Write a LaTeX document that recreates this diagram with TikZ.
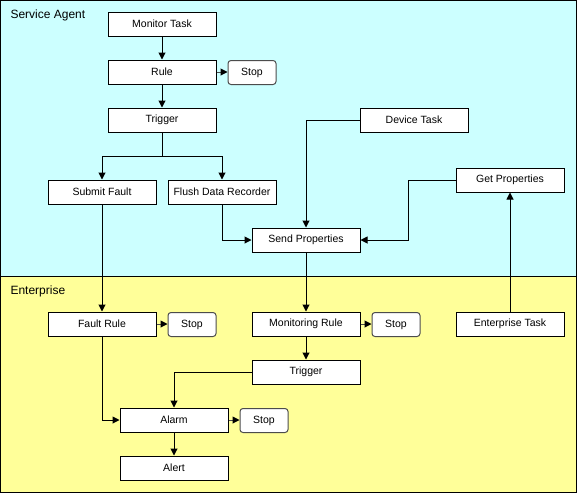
\documentclass[tikz,border=0pt]{standalone}
\usepackage{fontspec}
\setmainfont{Liberation Sans}
\usetikzlibrary{arrows.meta}
\definecolor{agentbg}{HTML}{CCFFFF}
\definecolor{enterbg}{HTML}{FFFF99}

\begin{document}
\begin{tikzpicture}[x=1pt,y=-1pt,line width=1pt,
  task/.style={draw,fill=white,minimum width=108pt,minimum height=24pt,inner sep=0pt,font=\fontsize{10.5}{12}\selectfont},
  stopbox/.style={draw=gray!60!black,fill=white,rounded corners=3pt,minimum width=48pt,minimum height=24pt,inner sep=0pt,font=\fontsize{10.5}{12}\selectfont},
  flow/.style={-{Triangle[length=7pt,width=7pt]}},
  stopflow/.style={-{Triangle[length=7pt,width=7pt,color=black]},draw=gray!60!black},
  region/.style={anchor=base west,inner sep=0pt,font=\fontsize{12}{14}\selectfont}]
\useasboundingbox (0,0) rectangle (577,493);
% swim lanes
\fill[agentbg] (0.5,0.5) rectangle (576.5,276);
\fill[enterbg] (0.5,276) rectangle (576.5,492.5);
\draw (0.5,276) -- (576.5,276);
\draw (0.5,0.5) rectangle (576.5,492.5);
\node[region] (agent) at (10,18) {Service Agent};
\node[region] (enterprise) at (10,294) {Enterprise};
% service agent
\node[task] (montask) at (162,24) {Monitor Task};
\node[task] (rule) at (162,72) {Rule};
\node[stopbox] (stop1) at (252,72.5) {Stop};
\node[task] (trig1) at (162,120) {Trigger};
\node[task] (submit) at (102,192) {Submit Fault};
\node[task] (flush) at (222,192) {Flush Data Recorder};
\node[task] (sendprop) at (306,240) {Send Properties};
\node[task] (devtask) at (414,120) {Device Task};
\node[task] (getprop) at (510,180) {Get Properties};
% enterprise
\node[task] (faultrule) at (102,324) {Fault Rule};
\node[stopbox] (stop2) at (192,324.5) {Stop};
\node[task] (monrule) at (306,324) {Monitoring Rule};
\node[stopbox] (stop3) at (396,324.5) {Stop};
\node[task] (enttask) at (510,324) {Enterprise Task};
\node[task] (trig2) at (306,372) {Trigger};
\node[task] (alarm) at (174,420) {Alarm};
\node[stopbox] (stop4) at (264,420.5) {Stop};
\node[task] (alert) at (174,468) {Alert};
% connectors
\coordinate (bus) at (162,156);
\draw[flow] (montask) -- (rule);
\draw[stopflow] (rule.east) -- (stop1.west |- rule.east);
\draw[flow] (rule) -- (trig1);
\draw (trig1) -- (bus);
\draw[flow] (bus) -| (submit);
\draw[flow] (bus) -| (flush);
\draw[flow] (flush) |- (sendprop);
\draw[flow] (devtask) -| (sendprop);
\draw[flow] (getprop.west) -| (408,240) -- (sendprop.east);
\draw[flow] (enttask) -- (getprop);
\draw[flow] (sendprop) -- (monrule);
\draw[flow] (submit) -- (faultrule);
\draw[stopflow] (faultrule.east) -- (stop2.west |- faultrule.east);
\draw[flow] (faultrule) |- (alarm);
\draw[stopflow] (monrule.east) -- (stop3.west |- monrule.east);
\draw[flow] (monrule) -- (trig2);
\draw[flow] (trig2) -| (alarm);
\draw[stopflow] (alarm.east) -- (stop4.west |- alarm.east);
\draw[flow] (alarm) -- (alert);
\end{tikzpicture}
\end{document}
